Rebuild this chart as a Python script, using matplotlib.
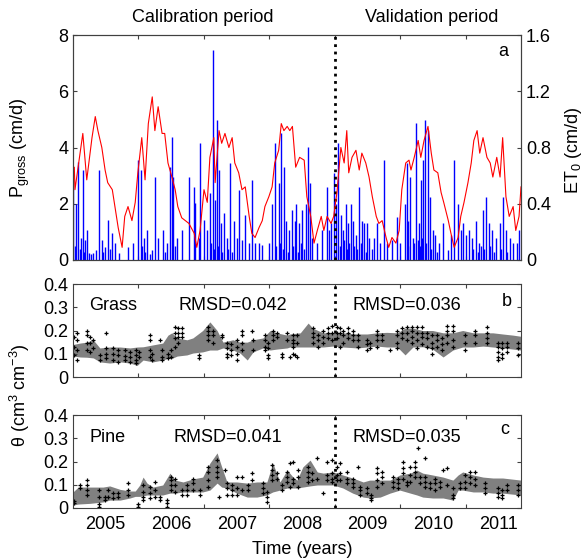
import matplotlib

matplotlib.use("Agg")
import matplotlib.pyplot as plt
import numpy as np

plt.rcParams["font.family"] = ["Liberation Sans", "DejaVu Sans"]
plt.rcParams["mathtext.fontset"] = "custom"
plt.rcParams["mathtext.rm"] = "Liberation Sans"
plt.rcParams["mathtext.it"] = "Liberation Sans:italic"
plt.rcParams["font.size"] = 13

# --- reference ET0 (cm/d), decimal years ---
et0_time = [
    2004.50, 2004.52, 2004.53, 2004.65, 2004.71, 2004.79, 2004.84, 2004.88, 2004.94, 2004.99,
    2005.03, 2005.10, 2005.14, 2005.19, 2005.25, 2005.29, 2005.34, 2005.40, 2005.45, 2005.49,
    2005.55, 2005.60, 2005.65, 2005.71, 2005.75, 2005.80, 2005.86, 2005.90, 2005.95, 2006.01,
    2006.06, 2006.10, 2006.16, 2006.27, 2006.35, 2006.39, 2006.44, 2006.50, 2006.55, 2006.59,
    2006.65, 2006.67, 2006.73, 2006.77, 2006.82, 2006.88, 2006.93, 2006.97, 2007.03, 2007.08,
    2007.13, 2007.19, 2007.23, 2007.28, 2007.34, 2007.39, 2007.43, 2007.49, 2007.54, 2007.58,
    2007.64, 2007.68, 2007.72, 2007.77, 2007.81, 2007.85, 2007.90, 2007.96, 2008.03, 2008.07,
    2008.13, 2008.18, 2008.23, 2008.29, 2008.33, 2008.38, 2008.44, 2008.48, 2008.53, 2008.59,
    2008.64, 2008.68, 2008.71, 2008.76, 2008.82, 2008.87, 2008.91, 2008.97, 2009.02, 2009.07,
    2009.13, 2009.17, 2009.22, 2009.28, 2009.32, 2009.37, 2009.43, 2009.48, 2009.52, 2009.58,
    2009.63, 2009.66, 2009.71, 2009.77, 2009.81, 2009.86, 2009.92, 2009.97, 2010.01, 2010.07,
    2010.12, 2010.16, 2010.23, 2010.27, 2010.32, 2010.38, 2010.42, 2010.47, 2010.53, 2010.58,
    2010.62, 2010.67, 2010.71, 2010.76, 2010.82, 2010.87, 2010.91, 2010.97, 2011.02, 2011.06,
    2011.11, 2011.16, 2011.22, 2011.26, 2011.31, 2011.34,
]
et0_value = [
    0.59, 0.66, 0.50, 0.90, 0.57, 0.87, 1.02, 0.92, 0.80, 0.64,
    0.55, 0.50, 0.38, 0.23, 0.09, 0.31, 0.38, 0.28, 0.41, 0.62,
    0.87, 0.57, 0.97, 1.16, 0.92, 1.09, 0.90, 0.90, 0.69, 0.59,
    0.50, 0.38, 0.30, 0.26, 0.19, 0.09, 0.21, 0.50, 0.41, 0.73,
    0.87, 0.55, 0.92, 0.83, 0.90, 0.80, 0.87, 0.69, 0.62, 0.50,
    0.52, 0.31, 0.19, 0.16, 0.23, 0.28, 0.38, 0.45, 0.52, 0.69,
    0.78, 0.97, 0.92, 0.95, 0.92, 0.95, 0.66, 0.73, 0.71, 0.45,
    0.31, 0.12, 0.21, 0.31, 0.21, 0.31, 0.26, 0.31, 0.48, 0.80,
    0.69, 0.92, 0.62, 0.73, 0.78, 0.64, 0.76, 0.69, 0.59, 0.45,
    0.31, 0.26, 0.28, 0.16, 0.09, 0.16, 0.12, 0.21, 0.50, 0.69,
    0.71, 0.64, 0.73, 0.85, 0.73, 0.85, 0.95, 0.76, 0.64, 0.62,
    0.48, 0.41, 0.28, 0.19, 0.09, 0.16, 0.31, 0.41, 0.55, 0.69,
    0.85, 0.92, 0.76, 0.87, 0.73, 0.69, 0.59, 0.73, 0.59, 0.87,
    0.45, 0.31, 0.38, 0.21, 0.31, 0.52,
]

# --- gross precipitation (cm/d) ---
precip_time = [
    2004.50, 2004.55, 2004.58, 2004.62, 2004.65, 2004.68, 2004.71, 2004.74, 2004.81, 2004.85,
    2004.90, 2004.94, 2004.99, 2005.03, 2005.10, 2005.14, 2005.20, 2005.34, 2005.42, 2005.49,
    2005.54, 2005.58, 2005.63, 2005.71, 2005.75, 2005.80, 2005.87, 2005.94, 2005.98, 2006.01,
    2006.03, 2006.09, 2006.16, 2006.27, 2006.35, 2006.36, 2006.42, 2006.44, 2006.50, 2006.55,
    2006.59, 2006.64, 2006.67, 2006.70, 2006.73, 2006.76, 2006.81, 2006.85, 2006.90, 2006.96,
    2007.00, 2007.03, 2007.08, 2007.13, 2007.19, 2007.23, 2007.28, 2007.34, 2007.39, 2007.49,
    2007.54, 2007.58, 2007.64, 2007.68, 2007.72, 2007.75, 2007.80, 2007.84, 2007.89, 2007.90,
    2007.95, 2008.00, 2008.06, 2008.09, 2008.12, 2008.15, 2008.23, 2008.30, 2008.38, 2008.41,
    2008.44, 2008.48, 2008.52, 2008.55, 2008.59, 2008.62, 2008.67, 2008.70, 2008.74, 2008.77,
    2008.82, 2008.87, 2008.91, 2008.94, 2008.99, 2009.02, 2009.10, 2009.14, 2009.19, 2009.25,
    2009.29, 2009.37, 2009.45, 2009.49, 2009.57, 2009.60, 2009.61, 2009.65, 2009.69, 2009.74,
    2009.78, 2009.81, 2009.84, 2009.87, 2009.92, 2009.95, 2010.00, 2010.03, 2010.09, 2010.15,
    2010.23, 2010.27, 2010.32, 2010.38, 2010.42, 2010.45, 2010.50, 2010.55, 2010.59, 2010.65,
    2010.70, 2010.76, 2010.81, 2010.85, 2010.90, 2010.96, 2011.02, 2011.06, 2011.11, 2011.17,
    2011.22, 2011.28, 2011.31,
    2004.53, 2004.60, 2004.67, 2004.77, 2004.96, 2005.06, 2005.56, 2005.60, 2005.67, 2005.91,
    2006.05, 2006.61, 2006.66, 2006.72, 2006.78, 2006.87, 2006.93, 2007.60, 2007.66, 2007.70,
    2007.78, 2007.86, 2007.93, 2007.98, 2008.03, 2008.57, 2008.64, 2008.69, 2008.72, 2008.79,
    2008.84, 2008.89, 2008.97, 2009.06, 2009.62, 2009.70, 2009.76, 2009.80, 2009.83, 2009.89,
    2009.97, 2010.05, 2010.60, 2010.68, 2010.73, 2010.78, 2010.87, 2010.93, 2011.04, 2011.13,
]
precip_value = [
    2.84, 2.00, 3.48, 0.80, 3.20, 0.70, 1.07, 0.25, 0.25, 0.36,
    3.20, 0.70, 0.46, 1.42, 0.96, 0.60, 0.25, 0.46, 0.60, 3.56,
    3.20, 0.80, 1.07, 0.36, 2.95, 0.80, 1.07, 0.60, 3.30, 4.37,
    2.95, 0.80, 1.07, 2.95, 2.60, 2.03, 0.80, 4.16, 1.42, 1.07,
    2.38, 7.47, 2.13, 4.98, 3.20, 1.30, 1.67, 0.80, 3.45, 1.40,
    0.80, 2.49, 0.70, 1.60, 0.60, 2.84, 0.60, 0.60, 0.55, 0.60,
    2.00, 4.16, 2.74, 4.50, 3.30, 1.40, 1.07, 1.78, 1.40, 2.00,
    1.30, 1.78, 2.00, 4.02, 2.74, 0.80, 0.60, 1.07, 2.60, 1.07,
    1.30, 3.10, 2.00, 4.16, 1.60, 1.07, 2.00, 1.30, 2.00, 1.40,
    0.90, 2.60, 1.40, 1.30, 1.30, 0.80, 0.80, 1.30, 0.60, 3.56,
    0.60, 0.70, 1.53, 0.60, 2.00, 3.45, 1.40, 2.95, 0.80, 4.87,
    1.30, 2.84, 3.56, 4.98, 4.62, 2.24, 1.07, 0.90, 0.60, 1.30,
    0.36, 0.90, 3.56, 2.00, 1.07, 1.30, 0.90, 1.07, 0.80, 1.40,
    0.60, 1.78, 2.24, 1.30, 1.07, 0.80, 1.30, 2.24, 1.07, 0.80,
    0.60, 0.60, 1.07,
    0.50, 0.40, 0.30, 0.20, 0.30, 0.40, 0.50, 0.30, 0.20, 0.30,
    0.50, 0.60, 0.40, 0.50, 0.30, 0.40, 0.30, 0.50, 0.60, 0.40,
    0.30, 0.50, 0.30, 0.60, 0.40, 0.50, 0.70, 0.40, 0.60, 0.50,
    0.40, 0.60, 0.30, 0.40, 0.50, 0.60, 0.70, 0.50, 0.80, 0.60,
    0.40, 0.30, 0.40, 0.30, 0.50, 0.40, 0.50, 0.30, 0.40, 0.30,
]

# --- grass: simulated band and observations (cm3/cm3) ---
grass_band_time = [
    2004.50, 2004.61, 2004.71, 2004.81, 2004.91, 2005.06, 2005.22, 2005.37, 2005.48, 2005.57,
    2005.72, 2005.87, 2005.95, 2006.01, 2006.09, 2006.24, 2006.33, 2006.48, 2006.59, 2006.70,
    2006.79, 2006.94, 2007.05, 2007.16, 2007.25, 2007.40, 2007.51, 2007.61, 2007.77, 2007.81,
    2007.97, 2008.09, 2008.16, 2008.32, 2008.47, 2008.62, 2008.84, 2008.99, 2009.14, 2009.29,
    2009.45, 2009.57, 2009.69, 2009.84, 2009.99, 2010.15, 2010.30, 2010.45, 2010.61, 2010.76,
    2010.91, 2011.06, 2011.22, 2011.34,
]
grass_band_low = [
    0.090, 0.086, 0.085, 0.082, 0.065, 0.060, 0.065, 0.060, 0.050, 0.073,
    0.065, 0.073, 0.080, 0.080, 0.090, 0.095, 0.103, 0.108, 0.116, 0.116,
    0.125, 0.116, 0.103, 0.073, 0.108, 0.125, 0.116, 0.120, 0.125, 0.129,
    0.129, 0.129, 0.129, 0.129, 0.133, 0.129, 0.125, 0.129, 0.133, 0.129,
    0.129, 0.095, 0.129, 0.130, 0.120, 0.086, 0.116, 0.129, 0.129, 0.133,
    0.129, 0.125, 0.120, 0.116,
]
grass_band_high = [
    0.140, 0.146, 0.150, 0.159, 0.125, 0.129, 0.129, 0.125, 0.129, 0.130,
    0.138, 0.146, 0.180, 0.190, 0.168, 0.160, 0.168, 0.200, 0.237, 0.200,
    0.150, 0.160, 0.150, 0.150, 0.160, 0.168, 0.200, 0.190, 0.180, 0.185,
    0.190, 0.232, 0.210, 0.190, 0.190, 0.190, 0.185, 0.185, 0.190, 0.192,
    0.190, 0.210, 0.210, 0.200, 0.200, 0.190, 0.190, 0.200, 0.190, 0.190,
    0.190, 0.185, 0.180, 0.175,
]
grass_obs_time = [
    2004.52, 2004.56, 2004.71, 2004.76, 2004.81, 2004.91, 2005.00, 2005.11, 2005.19, 2005.29,
    2005.37, 2005.46, 2005.51, 2005.68, 2005.71, 2005.83, 2005.86, 2005.95, 2006.00, 2006.06,
    2006.10, 2006.16, 2006.42, 2006.56, 2006.64, 2006.77, 2006.85, 2006.91, 2007.00, 2007.08,
    2007.23, 2007.25, 2007.43, 2007.48, 2007.55, 2007.61, 2007.69, 2007.77, 2007.81, 2007.86,
    2007.89, 2007.92, 2008.16, 2008.24, 2008.32, 2008.39, 2008.45, 2008.53, 2008.58, 2008.62,
    2008.70, 2008.77, 2008.85, 2008.99, 2009.03, 2009.14, 2009.22, 2009.34, 2009.45, 2009.52,
    2009.60, 2009.68, 2009.75, 2009.83, 2009.90, 2009.98, 2010.06, 2010.13, 2010.21, 2010.30,
    2010.48, 2010.64, 2010.82, 2010.99, 2011.05, 2011.13, 2011.29,
]
grass_obs_theta = [
    [0.17, 0.13, 0.095], [0.19, 0.16, 0.116, 0.073], [0.2, 0.18, 0.146, 0.116],
    [0.17, 0.146, 0.108], [0.16, 0.125], [0.095, 0.073], [0.19, 0.125, 0.1, 0.08],
    [0.125, 0.1, 0.073], [0.116, 0.095, 0.065], [0.116, 0.09, 0.073], [0.108, 0.086, 0.065],
    [0.116, 0.095, 0.073, 0.06], [0.108, 0.086], [0.18, 0.16, 0.116, 0.086], [0.1, 0.073],
    [0.16], [0.116, 0.086, 0.073], [0.1, 0.08], [0.116, 0.086], [0.215, 0.19, 0.168, 0.129],
    [0.21, 0.19, 0.17, 0.146], [0.21, 0.19, 0.17], [0.095, 0.08], [0.215, 0.2, 0.18, 0.16],
    [0.2, 0.18, 0.146], [0.18, 0.17], [0.146, 0.125, 0.1, 0.086], [0.14, 0.116, 0.095],
    [0.16, 0.13, 0.1, 0.073], [0.2, 0.18, 0.146, 0.116], [0.2], [0.16, 0.116],
    [0.18, 0.16, 0.13, 0.116], [0.146, 0.125, 0.095, 0.08], [0.2, 0.18, 0.16], [0.19, 0.17],
    [0.1, 0.086], [0.19, 0.16], [0.086], [0.18, 0.16, 0.146, 0.13, 0.1], [0.095],
    [0.18, 0.146, 0.086], [0.21, 0.19, 0.17, 0.146], [0.18, 0.16, 0.13], [0.2, 0.17, 0.146],
    [0.21, 0.19, 0.168], [0.22, 0.19, 0.16], [0.215, 0.19, 0.168], [0.21, 0.19, 0.13],
    [0.2, 0.18, 0.146], [0.21, 0.19, 0.168], [0.2, 0.18, 0.16], [0.18, 0.16, 0.13],
    [0.16, 0.14, 0.116], [0.146, 0.125], [0.2, 0.18, 0.16, 0.13], [0.18, 0.16], [0.116],
    [0.2, 0.18, 0.146, 0.125], [0.21, 0.19, 0.168], [0.215, 0.19, 0.16],
    [0.215, 0.2, 0.17, 0.146], [0.215, 0.19, 0.16, 0.125], [0.215, 0.19, 0.17, 0.14],
    [0.19, 0.168, 0.13], [0.18, 0.146, 0.125, 0.1], [0.18, 0.16, 0.13], [0.168, 0.14, 0.116],
    [0.22, 0.2, 0.18, 0.146], [0.22, 0.2, 0.16, 0.13], [0.18, 0.146, 0.116], [0.2, 0.18, 0.146],
    [0.215, 0.19, 0.168, 0.146], [0.146, 0.13, 0.108, 0.086, 0.073], [0.146, 0.125, 0.1, 0.08],
    [0.146, 0.13, 0.108], [0.146, 0.125, 0.095],
]

# --- pine: simulated band and observations (cm3/cm3) ---
pine_band_time = [
    2004.50, 2004.58, 2004.76, 2004.96, 2005.06, 2005.22, 2005.37, 2005.45, 2005.52, 2005.57,
    2005.63, 2005.72, 2005.87, 2005.98, 2006.06, 2006.18, 2006.33, 2006.48, 2006.59, 2006.70,
    2006.77, 2006.85, 2007.00, 2007.16, 2007.31, 2007.46, 2007.55, 2007.66, 2007.77, 2007.86,
    2007.92, 2008.01, 2008.12, 2008.23, 2008.32, 2008.47, 2008.62, 2008.77, 2008.93, 2009.03,
    2009.19, 2009.34, 2009.49, 2009.65, 2009.75, 2009.84, 2009.99, 2010.15, 2010.30, 2010.38,
    2010.45, 2010.61, 2010.76, 2010.91, 2011.06, 2011.34,
]
pine_band_low = [
    0.013, 0.017, 0.020, 0.026, 0.034, 0.034, 0.043, 0.050, 0.050, 0.052,
    0.056, 0.056, 0.056, 0.064, 0.064, 0.069, 0.069, 0.069, 0.077, 0.107,
    0.090, 0.086, 0.064, 0.047, 0.047, 0.056, 0.069, 0.077, 0.086, 0.086,
    0.086, 0.090, 0.095, 0.099, 0.099, 0.099, 0.086, 0.064, 0.047, 0.043,
    0.047, 0.064, 0.077, 0.064, 0.056, 0.047, 0.043, 0.043, 0.034, 0.077,
    0.077, 0.069, 0.069, 0.064, 0.064, 0.056,
]
pine_band_high = [
    0.069, 0.090, 0.090, 0.090, 0.095, 0.080, 0.073, 0.073, 0.099, 0.133,
    0.107, 0.090, 0.099, 0.150, 0.120, 0.112, 0.125, 0.133, 0.193, 0.237,
    0.177, 0.112, 0.112, 0.107, 0.112, 0.112, 0.193, 0.112, 0.163, 0.133,
    0.120, 0.177, 0.206, 0.155, 0.150, 0.155, 0.142, 0.129, 0.112, 0.120,
    0.120, 0.120, 0.142, 0.150, 0.163, 0.150, 0.142, 0.133, 0.120, 0.142,
    0.155, 0.142, 0.133, 0.129, 0.129, 0.120,
]
pine_obs_time = [
    2004.52, 2004.61, 2004.71, 2004.90, 2004.99, 2005.03, 2005.11, 2005.19, 2005.34, 2005.49,
    2005.57, 2005.68, 2005.75, 2005.83, 2005.94, 2006.00, 2006.06, 2006.16, 2006.24, 2006.33,
    2006.44, 2006.56, 2006.70, 2006.73, 2006.82, 2006.85, 2006.93, 2007.00, 2007.08, 2007.17,
    2007.23, 2007.40, 2007.46, 2007.54, 2007.61, 2007.69, 2007.77, 2007.81, 2007.86, 2007.93,
    2008.09, 2008.15, 2008.23, 2008.32, 2008.38, 2008.45, 2008.53, 2008.58, 2008.68, 2008.77,
    2008.85, 2008.88, 2008.99, 2009.05, 2009.14, 2009.22, 2009.39, 2009.46, 2009.54, 2009.60,
    2009.65, 2009.72, 2009.77, 2009.80, 2009.87, 2009.95, 2010.03, 2010.10, 2010.15, 2010.21,
    2010.30, 2010.41, 2010.48, 2010.56, 2010.64, 2010.79, 2010.99, 2011.05, 2011.13, 2011.29,
]
pine_obs_theta = [
    [0.03, 0.02], [0.1, 0.086], [0.12, 0.1, 0.077, 0.056], [0.077, 0.047, 0.017, 0.004],
    [0.047, 0.034], [0.077, 0.047], [0.064, 0.043], [0.064, 0.047], [0.107, 0.077, 0.056],
    [0.017, 0.004], [0.1, 0.069, 0.047, 0.034], [0.09, 0.064, 0.043], [0.112, 0.077, 0.047],
    [0.047, 0.034], [0.034, 0.02, 0.004], [0.133, 0.12, 0.1, 0.077], [0.125, 0.1, 0.069],
    [0.077, 0.056], [0.1, 0.077, 0.056], [0.125, 0.107, 0.077], [0.077, 0.056],
    [0.177, 0.155, 0.12, 0.09], [0.206, 0.177, 0.155, 0.133], [0.047], [0.163],
    [0.107, 0.086, 0.056], [0.1, 0.077, 0.056], [0.133, 0.086, 0.056], [0.133, 0.077],
    [0.1, 0.077], [0.15, 0.12], [0.107, 0.086, 0.064], [0.069, 0.047, 0.026],
    [0.185, 0.163, 0.142, 0.12], [0.15, 0.125], [0.1, 0.077], [0.155, 0.133, 0.112],
    [0.193, 0.09], [0.2, 0.125, 0.107], [0.163, 0.133, 0.09], [0.177, 0.155, 0.133, 0.112],
    [0.15, 0.12], [0.215, 0.125], [0.064], [0.2, 0.142, 0.12], [0.206, 0.15, 0.125, 0.112],
    [0.177, 0.142, 0.12], [0.193, 0.15, 0.12], [0.155, 0.125, 0.107], [0.125, 0.107, 0.09],
    [0.177], [0.09, 0.077, 0.056], [0.086, 0.064], [0.056, 0.043, 0.034],
    [0.17, 0.15, 0.12, 0.09], [0.155, 0.133, 0.107], [0.133, 0.112, 0.09],
    [0.125, 0.107, 0.086], [0.2, 0.17, 0.15, 0.125], [0.112, 0.1], [0.177, 0.142, 0.112],
    [0.2, 0.177, 0.155, 0.133], [0.26], [0.133, 0.107], [0.215, 0.133, 0.112, 0.09],
    [0.107, 0.086], [0.125, 0.107, 0.077], [0.112, 0.09], [0.163], [0.17, 0.1],
    [0.086, 0.056, 0.043], [0.107, 0.086], [0.142, 0.112, 0.086], [0.155, 0.133, 0.107],
    [0.155, 0.125, 0.1], [0.107, 0.086, 0.064], [0.086, 0.064, 0.047], [0.077, 0.056, 0.043],
    [0.1, 0.077], [0.1, 0.077, 0.056],
]

year_labels = ["2005", "2006", "2007", "2008", "2009", "2010", "2011"]
split_year = 2008.5
x_range = (2004.5, 2011.34)

spine_color = "#404040"


def style_axes(ax, show_years=False):
    ax.set_xlim(*x_range)
    ax.set_xticks(np.arange(2005.5, 2011.0, 1.0))
    ax.set_xticklabels([])
    ax.set_xticks([int(label) for label in year_labels], minor=True)
    if show_years:
        ax.set_xticklabels(year_labels, minor=True)
    else:
        ax.set_xticklabels([], minor=True)
    ax.tick_params(axis="x", which="minor", length=0, pad=6)
    ax.tick_params(which="major", direction="in", length=3, top=True, color=spine_color)
    for spine in ax.spines.values():
        spine.set_color(spine_color)


def draw_theta_panel(ax, band_time, band_low, band_high, obs_time, obs_theta):
    ax.fill_between(band_time, band_low, band_high, color="#808080", linewidth=0)
    for date, values in zip(obs_time, obs_theta):
        ax.plot([date] * len(values), values, linestyle="none", marker="+",
                markersize=3, markeredgewidth=0.9, color="black")
    ax.axvline(split_year, color="black", linestyle=":", linewidth=2)
    ax.set_ylim(0, 0.4)
    ax.set_yticks([0, 0.1, 0.2, 0.3, 0.4])
    ax.set_yticklabels(["0", "0.1", "0.2", "0.3", "0.4"])
    ax.tick_params(axis="y", direction="in", length=3, right=True, color=spine_color)


fig = plt.figure(figsize=(5.85, 5.6), dpi=100)
left, width = 73 / 585, 448 / 585

ax_p = fig.add_axes([left, 1 - 260 / 560, width, 225 / 560])
ax_et = ax_p.twinx()
ax_p.vlines(precip_time, 0, precip_value, color="#0000ff", linewidth=1.0)
ax_et.plot(et0_time, et0_value, color="#ff0000", linewidth=0.8)
ax_p.axvline(split_year, color="black", linestyle=":", linewidth=2, zorder=5)
ax_p.set_ylim(0, 8)
ax_p.set_yticks([0, 2, 4, 6, 8])
ax_et.set_ylim(0, 1.6)
ax_et.set_yticks([0, 0.4, 0.8, 1.2, 1.6])
ax_et.set_yticklabels(["0", "0.4", "0.8", "1.2", "1.6"])
style_axes(ax_p)
ax_et.set_xlim(*x_range)
ax_p.tick_params(axis="y", direction="in", length=3, color=spine_color)
ax_et.tick_params(axis="y", direction="in", length=3, color=spine_color)
for spine in ax_et.spines.values():
    spine.set_color(spine_color)
ax_p.text(0.96, 0.925, "a", transform=ax_p.transAxes, ha="center", va="center")

ax_g = fig.add_axes([left, 1 - 377 / 560, width, 93 / 560])
draw_theta_panel(ax_g, grass_band_time, grass_band_low, grass_band_high,
                 grass_obs_time, grass_obs_theta)
style_axes(ax_g)
ax_g.text(0.036, 0.77, "Grass", transform=ax_g.transAxes, ha="left", va="center")
ax_g.text(0.357, 0.77, "RMSD=0.042", transform=ax_g.transAxes, ha="center", va="center")
ax_g.text(0.746, 0.77, "RMSD=0.036", transform=ax_g.transAxes, ha="center", va="center")
ax_g.text(0.969, 0.81, "b", transform=ax_g.transAxes, ha="center", va="center")

ax_c = fig.add_axes([left, 1 - 508 / 560, width, 93 / 560])
draw_theta_panel(ax_c, pine_band_time, pine_band_low, pine_band_high,
                 pine_obs_time, pine_obs_theta)
style_axes(ax_c, show_years=True)
ax_c.text(0.036, 0.76, "Pine", transform=ax_c.transAxes, ha="left", va="center")
ax_c.text(0.346, 0.76, "RMSD=0.041", transform=ax_c.transAxes, ha="center", va="center")
ax_c.text(0.746, 0.76, "RMSD=0.035", transform=ax_c.transAxes, ha="center", va="center")
ax_c.text(0.964, 0.84, "c", transform=ax_c.transAxes, ha="center", va="center")

fig.text(203 / 585, 1 - 18 / 560, "Calibration period", ha="center", va="center")
fig.text(432 / 585, 1 - 18 / 560, "Validation period", ha="center", va="center")
fig.text(20 / 585, 1 - 148 / 560, r"P$_{\mathrm{gross}}$ (cm/d)", rotation=90,
         ha="center", va="center")
fig.text(574 / 585, 1 - 150 / 560, r"ET$_{0}$ (cm/d)", rotation=90,
         ha="center", va="center")
fig.text(20 / 585, 1 - 395 / 560, r"θ (cm$^{3}$ cm$^{-3}$)", rotation=90,
         ha="center", va="center")
fig.text(302 / 585, 1 - 549 / 560, "Time (years)", ha="center", va="center")

fig.savefig("out.png", dpi=100)
